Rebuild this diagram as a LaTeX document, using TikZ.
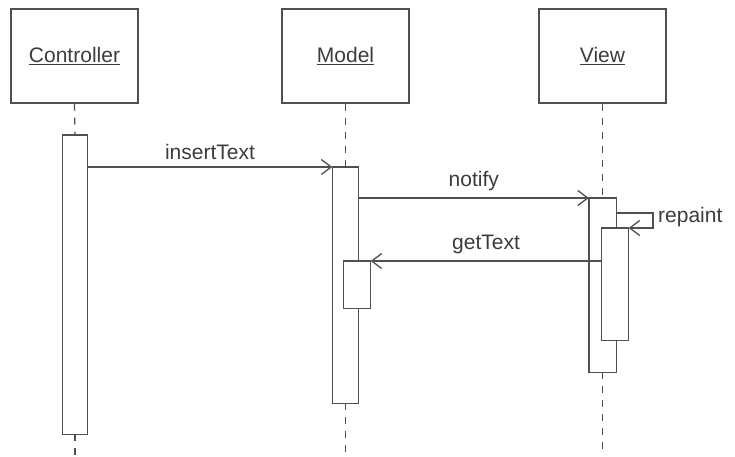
\documentclass[tikz,border=0pt]{standalone}
\usepackage{fontspec}
\setmainfont{Liberation Sans}
\usetikzlibrary{arrows.meta}
\definecolor{lc}{RGB}{80,80,80}
\definecolor{tc}{RGB}{60,60,60}
\begin{document}
\begin{tikzpicture}[x=1pt,y=-1pt,
  every node/.style={font=\fontsize{21}{24}\selectfont, text=tc},
  objbox/.style={draw=lc, line width=1.3pt, minimum width=127pt, minimum height=94pt, inner sep=0pt},
  act/.style={draw=lc, fill=white, line width=1.3pt, anchor=north, inner sep=0pt},
  life/.style={draw=lc, line width=1.3pt, dash pattern=on 7pt off 7pt},
  msg/.style={draw=lc, line width=1.3pt, -{Straight Barb[length=10pt,width=15pt]}},
  lbl/.style={anchor=base, inner sep=0pt}
]
\useasboundingbox (0,0) rectangle (735,456);
% objects
\node[objbox] (c) at (74.5,56) {\underline{Controller}};
\node[objbox] (m) at (345.5,56) {\underline{Model}};
\node[objbox] (v) at (602.5,56) {\underline{View}};
% lifeline ends
\coordinate (cend) at (75,456);
\coordinate (mend) at (345.5,456);
\coordinate (vend) at (602.5,456);
% activations (positions only)
\node[act, minimum width=24pt, minimum height=298pt] (ca) at (75,135) {};
\node[act, minimum width=25pt, minimum height=235pt] (ma1) at (345.5,167) {};
\node[act, minimum width=26pt, minimum height=46pt] (ma2) at (357,261) {};
\node[act, minimum width=26pt, minimum height=173pt] (va1) at (602.5,198) {};
\node[act, minimum width=26pt, minimum height=111pt] (va2) at (615,228) {};
% lifelines
\draw[life] (c.south) -- (ca.north);
\draw[life] (ca.south) -- (cend);
\draw[life] (m.south) -- (ma1.north);
\draw[life] (ma1.south) -- (mend);
\draw[life] (v.south) -- (va1.north);
\draw[life] (va1.south) -- (vend);
% redraw activations on top of lifelines
\draw[act] (ca.north west) rectangle (ca.south east);
\draw[act] (ma1.north west) rectangle (ma1.south east);
\draw[act] (ma2.north west) rectangle (ma2.south east);
\draw[act] (va1.north west) rectangle (va1.south east);
\draw[act] (va2.north west) rectangle (va2.south east);
% messages
\draw[msg] (ca.east |- ma1.north) -- node[lbl, above=7pt] (l1) {insertText} (ma1.north west);
\draw[msg] (ma1.east |- va1.north) -- node[lbl, above=6pt] (l2) {notify} (va1.north west);
\coordinate (rp1) at (653,213);
\coordinate (rp2) at (653,228);
\draw[msg] (va1.east |- rp1) -- (rp1) -- (rp2) -- (va2.north east);
\node[anchor=base west, inner sep=0pt] (l3) at (658,222) {repaint};
\draw[msg] (va2.west |- ma2.north) -- node[lbl, above=7pt] (l4) {getText} (ma2.north east);
\end{tikzpicture}
\end{document}
